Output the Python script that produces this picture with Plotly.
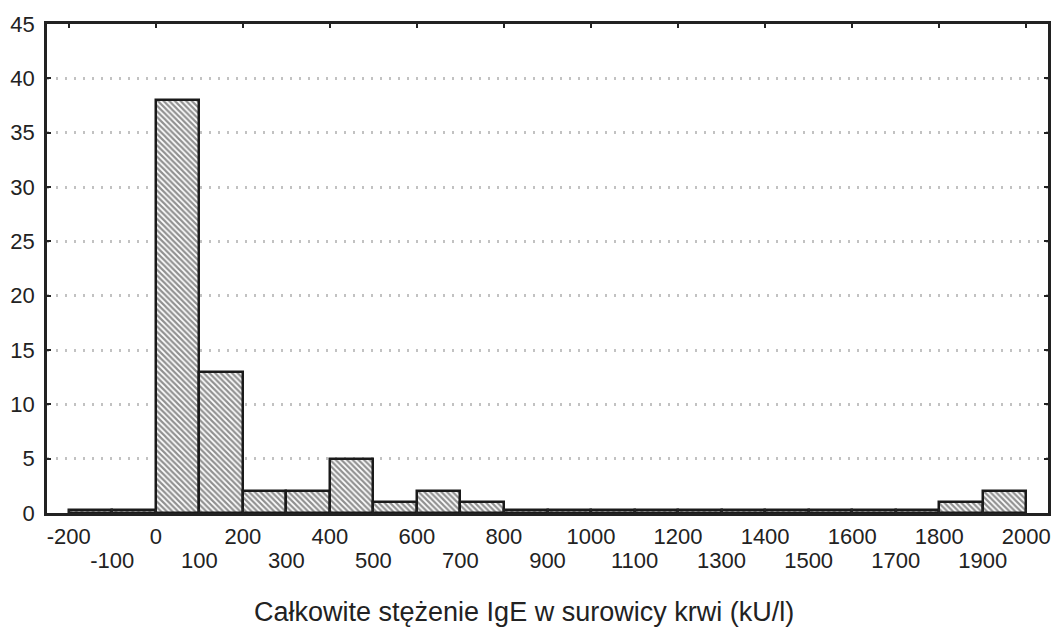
import plotly.graph_objects as go

bin_starts = [-200, -100, 0, 100, 200, 300, 400, 500, 600, 700, 800, 900, 1000,
              1100, 1200, 1300, 1400, 1500, 1600, 1700, 1800, 1900]
counts = [0, 0, 38, 13, 2, 2, 5, 1, 2, 1, 0, 0, 0, 0, 0, 0, 0, 0, 0, 0, 1, 2]
bin_width = 100
y_ticks = [0, 5, 10, 15, 20, 25, 30, 35, 40, 45]
x_ticks_top_row = [-200, 0, 200, 400, 600, 800, 1000, 1200, 1400, 1600, 1800, 2000]
x_ticks_bottom_row = [-100, 100, 300, 500, 700, 900, 1100, 1300, 1500, 1700, 1900]
x_title = "Całkowite stężenie IgE w surowicy krwi (kU/l)"

# empty bins are drawn as thin boxes, as in the original software
heights = [c if c > 0 else 0.25 for c in counts]
centers = [s + bin_width / 2 for s in bin_starts]

FONT = "Liberation Sans, Arial, sans-serif"
TXT = "#222222"
fig = go.Figure()
fig.add_trace(go.Bar(
    x=centers, y=heights, width=bin_width,
    customdata=counts,
    hovertemplate="%{x}: %{customdata}<extra></extra>",
    marker=dict(color="white",
                line=dict(color="#1a1a1a", width=2.5),
                pattern=dict(shape="\\", fgcolor="#222222", bgcolor="white",
                             size=4, solidity=0.55)),
    showlegend=False,
))
# dummy trace for the second x-axis (bottom row labels)
fig.add_trace(go.Scatter(x=[None], y=[None], xaxis="x2", showlegend=False))

tickfont = dict(size=22, family=FONT, color=TXT)
fig.update_layout(
    width=1052, height=628,
    margin=dict(l=47, r=4, t=24, b=115),
    plot_bgcolor="white", paper_bgcolor="white",
    font=dict(family=FONT, size=22, color=TXT),
    bargap=0,
    xaxis=dict(range=[-250, 2050], tickvals=x_ticks_top_row,
               ticktext=[str(v) for v in x_ticks_top_row],
               ticks="inside", ticklen=4, tickwidth=2, tickcolor=TXT,
               showline=True, linecolor=TXT, linewidth=2.5, mirror="ticks",
               showgrid=False, zeroline=False, automargin=False,
               ticklabelstandoff=2, tickfont=tickfont),
    xaxis2=dict(range=[-250, 2050], overlaying="x", anchor="y", side="bottom",
                tickvals=x_ticks_bottom_row,
                ticktext=[str(v) for v in x_ticks_bottom_row],
                ticks="inside", ticklen=4, tickwidth=2, tickcolor=TXT,
                showline=False, showgrid=False, zeroline=False, automargin=False,
                ticklabelstandoff=32, tickfont=tickfont),
    yaxis=dict(range=[0, 45], tickvals=y_ticks,
               ticks="inside", ticklen=4, tickwidth=2, tickcolor=TXT,
               showline=True, linecolor=TXT, linewidth=2.5, mirror="ticks",
               showgrid=True, gridcolor="#c2c2c2", griddash="2px,7px", gridwidth=2.5,
               zeroline=False, automargin=False,
               ticklabelstandoff=5, tickfont=tickfont),
    annotations=[dict(text=x_title, xref="paper", yref="paper",
                      x=0.4765, y=-0.2025, xanchor="center", yanchor="middle",
                      showarrow=False, font=dict(size=27, family=FONT, color=TXT))],
)
fig.write_html("out.html", config={"displayModeBar": False},
               post_script="document.body.style.margin='0';"
                           "document.body.style.overflow='hidden';")
